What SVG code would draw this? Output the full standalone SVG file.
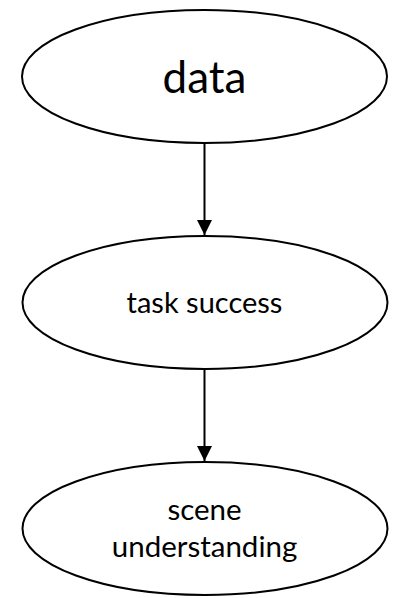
<svg xmlns="http://www.w3.org/2000/svg" width="398" height="598" viewBox="0 0 398 598">
  <style>
    .node ellipse { fill: #ffffff; stroke: #000000; stroke-width: 2; }
    .node text { font-family: Lato, "Open Sans", sans-serif; fill: #000000; text-anchor: middle; }
    .edge { stroke: #000000; stroke-width: 2; fill: none; marker-end: url(#arrow); }
  </style>
  <defs>
    <marker id="arrow" markerUnits="userSpaceOnUse" markerWidth="16" markerHeight="16" viewBox="0 0 16 16" refX="15" refY="8" orient="auto">
      <path d="M0,0.5 L15,8 L0,15.5 Z" fill="#000000"/>
    </marker>
  </defs>
  <rect width="398" height="598" fill="#ffffff"/>

  <g id="connectors">
    <line class="edge" x1="204.5" y1="143" x2="204.5" y2="235"/>
    <line class="edge" x1="204.5" y1="369" x2="204.5" y2="461"/>
  </g>

  <g id="node-data" class="node">
    <ellipse cx="204.5" cy="76.5" rx="182.5" ry="66.5"/>
    <text x="204.5" y="92.5" font-size="44">data</text>
  </g>

  <g id="node-task-success" class="node">
    <ellipse cx="205" cy="302.5" rx="182.5" ry="66.5"/>
    <text x="204.5" y="313" font-size="29">task success</text>
  </g>

  <g id="node-scene-understanding" class="node">
    <ellipse cx="205" cy="528.5" rx="182.5" ry="66.5"/>
    <text x="204.5" y="520" font-size="29.5">scene</text>
    <text x="204.5" y="556.5" font-size="29.5">understanding</text>
  </g>
</svg>
